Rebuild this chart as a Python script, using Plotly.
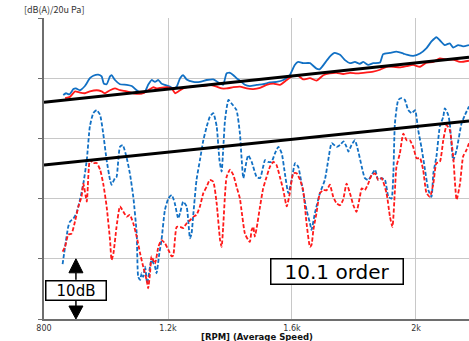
import plotly.graph_objects as go

# ---- data (RPM, dB(A)) ----
BLUE_SOLID_RPM = [862, 871, 882, 895, 903, 916, 932, 948, 959, 975, 986, 993, 1002, 1013, 1018, 1029, 1045, 1067, 1083, 1099,
                  1115, 1126, 1136, 1147, 1158, 1169, 1179, 1190, 1206, 1217, 1228, 1239, 1249, 1260, 1282, 1303, 1325, 1346,
                  1368, 1378, 1389, 1400, 1411, 1421, 1432, 1448, 1464, 1486, 1507, 1529, 1550, 1572, 1593, 1609, 1620, 1636,
                  1658, 1679, 1690, 1706, 1722, 1738, 1755, 1771, 1787, 1803, 1819, 1830, 1846, 1862, 1884, 1894, 1916, 1937,
                  1959, 1970, 1991, 2013, 2034, 2050, 2066, 2077, 2093, 2109, 2120, 2136, 2152, 2171]
BLUE_SOLID_DB = [67.2, 67.5, 67.3, 68.2, 68.3, 68.0, 68.7, 70.0, 70.4, 70.6, 70.3, 69.1, 69.0, 70.3, 70.5, 69.7, 69.0, 68.9, 68.7, 68.0,
                 67.5, 67.8, 68.9, 69.7, 69.4, 69.7, 69.1, 68.9, 68.6, 68.3, 68.6, 70.0, 70.5, 69.8, 69.4, 69.4, 69.7, 69.8,
                 69.1, 68.9, 70.8, 70.9, 70.5, 70.0, 69.6, 68.9, 68.7, 68.9, 69.0, 69.3, 69.4, 69.7, 70.5, 72.2, 72.7, 72.5,
                 72.5, 71.6, 71.5, 72.5, 73.6, 74.2, 73.9, 73.0, 72.5, 72.7, 72.4, 72.7, 72.2, 72.5, 72.6, 74.0, 74.2, 74.4,
                 74.1, 73.9, 73.7, 74.1, 75.0, 76.1, 76.8, 76.3, 75.5, 75.8, 75.1, 75.5, 75.3, 75.5]

RED_SOLID_RPM = [868, 884, 900, 916, 932, 948, 970, 986, 997, 1013, 1029, 1045, 1067, 1088, 1110, 1120, 1142, 1153, 1163, 1174,
                 1196, 1212, 1223, 1233, 1249, 1271, 1292, 1314, 1335, 1357, 1373, 1389, 1411, 1432, 1454, 1475, 1497, 1518,
                 1540, 1561, 1583, 1599, 1620, 1636, 1658, 1679, 1701, 1722, 1744, 1765, 1787, 1808, 1830, 1862, 1884, 1905,
                 1927, 1948, 1970, 1991, 2013, 2034, 2056, 2077, 2099, 2120, 2142, 2171]
RED_SOLID_DB = [66.7, 66.9, 67.8, 67.6, 67.5, 67.8, 68.0, 67.8, 67.5, 68.0, 68.3, 68.0, 67.8, 67.5, 67.4, 67.5, 68.2, 68.5, 68.3, 68.4,
                68.5, 68.3, 67.5, 67.8, 68.3, 68.6, 68.7, 68.7, 68.9, 68.6, 68.3, 68.3, 68.5, 68.6, 68.3, 68.2, 68.4, 68.9,
                69.1, 68.9, 69.7, 70.3, 70.4, 69.8, 70.0, 69.6, 70.5, 70.8, 70.9, 70.7, 70.9, 70.8, 70.9, 71.1, 71.4, 71.9,
                71.9, 71.8, 72.0, 72.2, 71.9, 72.6, 72.7, 73.3, 73.1, 73.1, 72.7, 72.9]

BLUE_DASH_RPM = [860, 868, 878, 884, 895, 905, 916, 927, 938, 948, 959, 970, 981, 991, 1002, 1013, 1018, 1029, 1034, 1045,
                 1054, 1067, 1077, 1088, 1099, 1104, 1110, 1115, 1120, 1126, 1133, 1142, 1147, 1158, 1163, 1172, 1179, 1190,
                 1201, 1212, 1222, 1233, 1239, 1249, 1260, 1271, 1276, 1282, 1292, 1303, 1314, 1325, 1335, 1346, 1357, 1366,
                 1373, 1378, 1384, 1395, 1405, 1421, 1432, 1437, 1443, 1454, 1459, 1470, 1486, 1497, 1507, 1513, 1523, 1534,
                 1545, 1556, 1567, 1577, 1588, 1599, 1610, 1620, 1631, 1647, 1658, 1663, 1674, 1690, 1706, 1717, 1728, 1744,
                 1755, 1766, 1776, 1782, 1792, 1803, 1814, 1825, 1835, 1846, 1857, 1868, 1878, 1889, 1900, 1911, 1921, 1927,
                 1932, 1943, 1954, 1964, 1975, 1986, 1997, 2007, 2018, 2029, 2040, 2050, 2056, 2066, 2077, 2088, 2093, 2104,
                 2109, 2120, 2131, 2147, 2158, 2171]
BLUE_DASH_DB = [39.1, 42.0, 45.3, 46.2, 46.7, 47.6, 49.8, 52.5, 56.4, 62.0, 64.2, 64.7, 63.9, 60.8, 56.4, 53.1, 52.3, 53.4, 53.6, 58.6,
                58.9, 56.7, 54.2, 50.3, 44.2, 37.0, 36.5, 37.6, 37.0, 38.7, 35.9, 38.7, 39.8, 38.7, 37.6, 40.9, 43.1, 48.1,
                50.0, 50.6, 49.2, 46.7, 47.6, 49.5, 48.7, 43.4, 44.2, 47.6, 53.1, 56.4, 59.7, 62.0, 63.6, 64.2, 62.0, 56.4,
                54.5, 58.1, 63.1, 66.4, 65.8, 64.7, 60.8, 57.0, 53.4, 56.4, 57.2, 56.1, 53.6, 53.4, 55.3, 56.4, 56.1, 56.1,
                57.5, 58.6, 57.5, 54.2, 50.9, 53.1, 55.9, 55.3, 52.5, 48.1, 45.9, 44.8, 47.6, 50.9, 53.1, 56.4, 59.2, 58.6,
                58.9, 59.5, 58.6, 57.8, 58.9, 59.7, 57.8, 55.3, 53.4, 53.1, 53.9, 54.8, 53.1, 53.4, 53.1, 50.3, 50.0, 54.2,
                62.5, 66.4, 66.7, 66.4, 64.7, 64.2, 64.7, 61.4, 58.4, 54.8, 51.4, 50.3, 54.2, 57.0, 62.0, 63.6, 65.0, 63.9,
                62.5, 56.4, 58.1, 62.5, 63.9, 65.3]

RED_DASH_RPM = [860, 868, 878, 889, 900, 911, 921, 927, 938, 948, 959, 970, 981, 991, 1002, 1013, 1018, 1024, 1034, 1045,
                1056, 1067, 1077, 1088, 1099, 1110, 1120, 1131, 1136, 1142, 1147, 1158, 1169, 1179, 1190, 1201, 1212, 1217,
                1228, 1239, 1249, 1260, 1271, 1282, 1292, 1303, 1314, 1325, 1335, 1346, 1357, 1368, 1373, 1378, 1389, 1400,
                1411, 1421, 1432, 1437, 1448, 1459, 1464, 1470, 1475, 1480, 1486, 1497, 1507, 1518, 1529, 1540, 1550, 1561,
                1572, 1583, 1593, 1604, 1615, 1626, 1636, 1647, 1658, 1663, 1669, 1679, 1690, 1701, 1712, 1722, 1733, 1744,
                1755, 1765, 1776, 1787, 1798, 1808, 1819, 1825, 1835, 1846, 1857, 1868, 1878, 1889, 1905, 1916, 1924, 1932,
                1937, 1948, 1959, 1970, 1980, 1991, 2002, 2013, 2023, 2034, 2045, 2056, 2066, 2077, 2088, 2099, 2109, 2120,
                2131, 2142, 2152, 2163, 2171]
RED_DASH_DB = [41.2, 42.0, 44.0, 44.2, 46.2, 48.7, 50.3, 52.5, 49.5, 56.4, 55.9, 55.9, 54.8, 52.5, 48.7, 43.1, 39.8, 40.9, 45.3, 48.7,
               47.8, 47.0, 47.3, 45.9, 43.7, 40.9, 38.7, 36.5, 35.1, 37.6, 40.4, 39.2, 42.0, 43.1, 42.6, 41.5, 40.4, 40.6,
               45.3, 45.3, 45.1, 45.9, 46.4, 47.0, 47.3, 48.7, 50.9, 52.0, 53.1, 52.8, 49.2, 43.1, 42.0, 45.3, 53.6, 54.8,
               53.9, 52.0, 50.0, 48.1, 44.2, 43.1, 42.8, 44.8, 45.3, 43.7, 45.1, 48.7, 51.7, 53.6, 55.3, 56.1, 55.6, 53.6,
               51.4, 48.7, 50.9, 54.2, 54.2, 53.1, 51.4, 45.9, 42.0, 42.3, 44.8, 47.6, 50.9, 51.4, 51.4, 52.3, 50.3, 49.2,
               48.9, 49.8, 52.5, 50.9, 48.9, 47.8, 50.3, 51.7, 51.4, 52.5, 53.9, 54.2, 53.1, 53.4, 50.9, 47.0, 45.3, 51.4,
               55.3, 57.5, 60.8, 59.7, 59.7, 58.6, 56.7, 56.7, 54.8, 50.9, 50.3, 52.5, 55.9, 56.1, 59.7, 62.2, 61.4, 57.0,
               49.8, 52.5, 57.0, 58.1, 59.2]

TREND_RPM = [800, 2171]
TREND_UPPER_DB = [66.0, 73.5]
TREND_LOWER_DB = [55.6, 62.9]

X_TICKS = [800, 1200, 1600, 2000]
X_TICK_TEXT = ["800", "1.2k", "1.6k", "2k"]
Y_TICKS = [30, 40, 50, 60, 70, 80]

BLUE = "#1170c4"
RED = "#ff1a1a"
DASH = "4px,2px"

fig = go.Figure()
fig.add_trace(go.Scatter(x=BLUE_SOLID_RPM, y=BLUE_SOLID_DB, mode="lines",
                         line=dict(color=BLUE, width=1.8, shape="spline", smoothing=0.5)))
fig.add_trace(go.Scatter(x=RED_SOLID_RPM, y=RED_SOLID_DB, mode="lines",
                         line=dict(color=RED, width=1.8, shape="spline", smoothing=0.5)))
fig.add_trace(go.Scatter(x=BLUE_DASH_RPM, y=BLUE_DASH_DB, mode="lines",
                         line=dict(color=BLUE, width=1.8, dash=DASH, shape="spline", smoothing=0.5)))
fig.add_trace(go.Scatter(x=RED_DASH_RPM, y=RED_DASH_DB, mode="lines",
                         line=dict(color=RED, width=1.8, dash=DASH, shape="spline", smoothing=0.5)))
fig.add_trace(go.Scatter(x=TREND_RPM, y=TREND_UPPER_DB, mode="lines", line=dict(color="black", width=3)))
fig.add_trace(go.Scatter(x=TREND_RPM, y=TREND_LOWER_DB, mode="lines", line=dict(color="black", width=3)))

ARROW_X = 903
shapes = [
    dict(type="path", xref="x", yref="y", xsizemode="pixel", ysizemode="pixel",
         xanchor=ARROW_X, yanchor=40, path="M0,0 L7,-14 L-7,-14 Z",
         fillcolor="black", line=dict(color="black", width=1)),
    dict(type="path", xref="x", yref="y", xsizemode="pixel", ysizemode="pixel",
         xanchor=ARROW_X, yanchor=40, path="M0,-14 L0,-21", line=dict(color="black", width=1.5)),
    dict(type="path", xref="x", yref="y", xsizemode="pixel", ysizemode="pixel",
         xanchor=ARROW_X, yanchor=30, path="M0,0 L7,13 L-7,13 Z",
         fillcolor="black", line=dict(color="black", width=1)),
    dict(type="path", xref="x", yref="y", xsizemode="pixel", ysizemode="pixel",
         xanchor=ARROW_X, yanchor=30, path="M0,13 L0,18", line=dict(color="black", width=1.5)),
]

annotations = [
    dict(text="10dB", x=ARROW_X, y=34.7, xref="x", yref="y", showarrow=False,
         font=dict(family="DejaVu Sans", size=15, color="black"),
         bgcolor="white", bordercolor="black", borderwidth=1.5, borderpad=0, width=59, height=18),
    dict(text="10.1 order", x=1745, y=37.9, xref="x", yref="y", showarrow=False,
         font=dict(family="DejaVu Sans", size=20, color="black"),
         bgcolor="white", bordercolor="black", borderwidth=1.5, borderpad=0, width=131, height=24),
    dict(text="[dB(A)/20u Pa]", x=-0.052, y=1, xref="paper", yref="paper", xanchor="left", yanchor="bottom",
         showarrow=False, font=dict(family="Noto Sans CJK JP", size=9, color="#333333"), yshift=0),
    dict(text="<b>[RPM] (Average Speed)</b>", x=0.5, y=0, xref="paper", yref="paper", xanchor="center",
         yanchor="middle", yshift=-17.5, showarrow=False, borderpad=0,
         font=dict(family="DejaVu Sans", size=8.5, color="#111111")),
]

fig.update_layout(
    width=469, height=341,
    margin=dict(l=44, r=0, t=18, b=22),
    paper_bgcolor="white", plot_bgcolor="white",
    showlegend=False,
    shapes=shapes, annotations=annotations,
    xaxis=dict(range=[800, 2171], tickvals=X_TICKS, ticktext=X_TICK_TEXT, showgrid=True, gridcolor="#c8c8c8",
               gridwidth=1, zeroline=False, showline=True, linecolor="#6e6e6e", linewidth=2, ticks="",
               tickfont=dict(family="DejaVu Sans", size=8, color="#333333")),
    yaxis=dict(range=[30, 80], tickvals=Y_TICKS, showticklabels=False, showgrid=True, gridcolor="#c8c8c8",
               gridwidth=1, zeroline=False, showline=True, linecolor="#6e6e6e", linewidth=2,
               ticks="outside", ticklen=4, tickcolor="#6e6e6e"),
)

fig.write_html("out.html", config={"displayModeBar": False})

# remove the default page margin so the figure sits at the window's top-left corner
with open("out.html", "r", encoding="utf-8") as f:
    html = f.read()
html = html.replace("<head>", "<head><style>html,body{margin:0;padding:0;overflow:hidden;}</style>", 1)
with open("out.html", "w", encoding="utf-8") as f:
    f.write(html)
